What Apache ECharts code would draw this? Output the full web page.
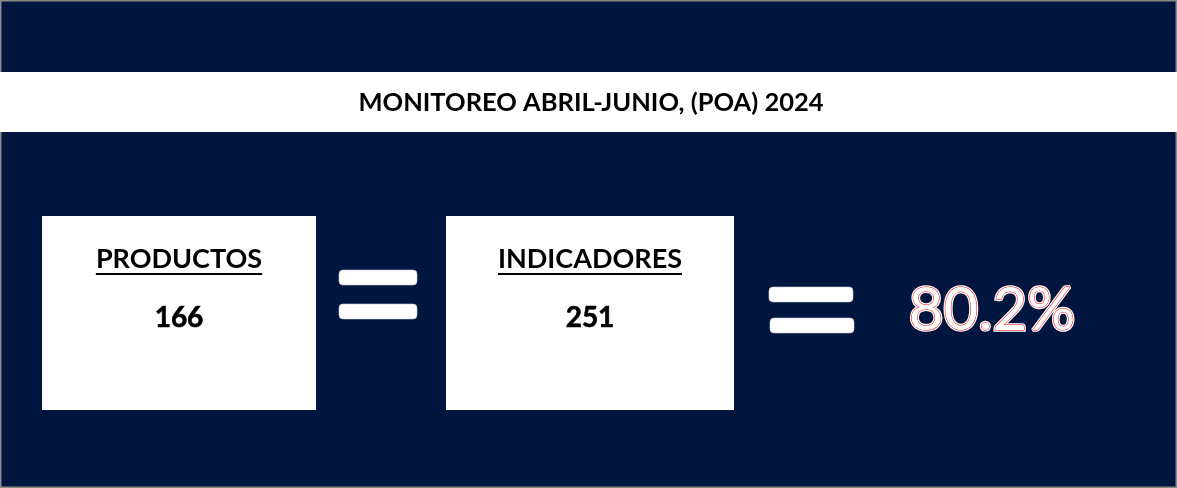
<!DOCTYPE html>
<html><head><meta charset="utf-8">
<script src="https://cdn.jsdelivr.net/npm/echarts@6/dist/echarts.min.js"></script>
<style>html,body{margin:0;padding:0;background:#fff}#c{width:1177px;height:488px}</style>
</head><body><div id="c"></div>
<script>
const title = 'MONITOREO ABRIL-JUNIO, (POA) 2024';
const cardLabels = ['PRODUCTOS', 'INDICADORES'];
const cardValues = [166, 251];
const resultText = ['80.2%'];

const FONT = 'Lato, "Open Sans", sans-serif';
const NAVY = '#00163f';
const chart = echarts.init(document.getElementById('c'), null, {renderer: 'canvas'});

const cardBoxes = [{x: 42, y: 216, w: 274, h: 194}, {x: 446, y: 216, w: 288, h: 194}];
const g = [];
g.push({type: 'rect', shape: {x: 0, y: 0, width: 1177, height: 488}, style: {fill: NAVY, stroke: '#8a8a8a', lineWidth: 3}, silent: true});
g.push({type: 'rect', shape: {x: 0, y: 72, width: 1177, height: 60}, style: {fill: '#ffffff'}});
g.push({type: 'text', x: 591, y: 103, style: {text: title, font: 'bold 25.5px ' + FONT, fill: '#000', align: 'center', verticalAlign: 'middle'}});

cardLabels.forEach((lab, i) => {
  const b = cardBoxes[i];
  const cx = b.x + b.w / 2;
  g.push({type: 'rect', shape: {x: b.x, y: b.y, width: b.w, height: b.h}, style: {fill: '#ffffff'}});
  g.push({type: 'text', x: cx, y: 259, style: {text: lab, font: 'bold 27px ' + FONT, fill: '#000', align: 'center', verticalAlign: 'middle'}});
  g.push({type: 'text', x: cx, y: 318, style: {text: String(cardValues[i]), font: 'bold 28px ' + FONT, fill: '#000', stroke: '#000', lineWidth: 0.6, align: 'center', verticalAlign: 'middle'}});
});

const eqs = [
  [{x: 339, y: 270, w: 78, h: 15}, {x: 339, y: 304, w: 78, h: 15}],
  [{x: 769, y: 287, w: 84, h: 15}, {x: 770, y: 318, w: 84, h: 15}]
];
eqs.forEach(pair => pair.forEach(r => g.push({type: 'rect', shape: {x: r.x, y: r.y, width: r.w, height: r.h, r: 4}, style: {fill: '#ffffff', stroke: '#c8ccd6', lineWidth: 0.6}})));

g.push({type: 'text', x: 992, y: 311, style: {text: resultText[0], font: '60px ' + FONT, fill: '#ffffff', stroke: '#ffffff', lineWidth: 3.5, align: 'center', verticalAlign: 'middle', lineJoin: 'round'}});
g.push({type: 'text', x: 992, y: 311, style: {text: resultText[0], font: '60px ' + FONT, fill: '#ffffff', stroke: '#ff0000', lineWidth: 1, align: 'center', verticalAlign: 'middle'}});

const ctx = document.createElement('canvas').getContext('2d');
ctx.font = 'bold 27px ' + FONT;
cardLabels.forEach((lab, i) => {
  const b = cardBoxes[i];
  const cx = b.x + b.w / 2;
  const w = ctx.measureText(lab).width;
  g.push({type: 'rect', shape: {x: cx - w / 2, y: 273, width: w, height: 2}, style: {fill: '#000'}});
});

chart.setOption({animation: false, graphic: {elements: g}});
</script></body></html>
